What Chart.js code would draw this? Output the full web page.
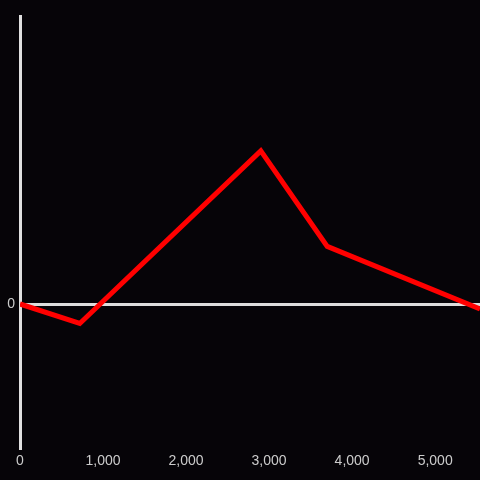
<!DOCTYPE html>
<html>
<head>
<meta charset="utf-8">
<script src="https://cdn.jsdelivr.net/npm/chart.js@4.4.1/dist/chart.umd.min.js"></script>
<style>
  html, body { margin: 0; padding: 0; background: #060408; }
  #wrap { width: 480px; height: 480px; }
</style>
</head>
<body>
<div id="wrap"><canvas id="chart"></canvas></div>
<script>
const xValues = [0, 720, 2900, 3700, 5540];
const yValues = [0, -0.135, 1.063, 0.40, -0.035];
const xTicks = [0, 1000, 2000, 3000, 4000, 5000];
const yTicks = [0];

const ctx = document.getElementById('chart').getContext('2d');
new Chart(ctx, {
  type: 'line',
  data: {
    datasets: [{
      data: xValues.map((x, i) => ({ x: x, y: yValues[i] })),
      borderColor: '#ff0000',
      borderWidth: 5,
      pointRadius: 0,
      tension: 0,
      fill: false
    }]
  },
  options: {
    responsive: true,
    maintainAspectRatio: false,
    animation: false,
    layout: { padding: { top: 16, left: 0, right: 0, bottom: 0 } },
    plugins: { legend: { display: false }, tooltip: { enabled: false } },
    scales: {
      x: {
        type: 'linear',
        min: 0,
        max: 5540,
        afterBuildTicks: s => { s.ticks = xTicks.map(v => ({ value: v })); },
        afterFit: s => { s.height = 32; },
        grid: { display: false, drawTicks: false },
        border: { display: false },
        ticks: {
          color: '#cccccc',
          font: { family: 'Liberation Sans, Arial, sans-serif', size: 14 },
          padding: 5,
          maxRotation: 0
        }
      },
      y: {
        min: -1,
        max: 2,
        afterBuildTicks: s => { s.ticks = yTicks.map(v => ({ value: v })); },
        afterFit: s => { s.width = 20; },
        grid: {
          drawTicks: false,
          color: c => (c.tick && c.tick.value === 0 ? '#dddddd' : 'transparent'),
          lineWidth: 3
        },
        border: { display: true, color: '#e0e0e0', width: 3 },
        ticks: {
          color: '#cccccc',
          font: { family: 'Liberation Sans, Arial, sans-serif', size: 14 },
          padding: 5
        }
      }
    }
  }
});
</script>
</body>
</html>
